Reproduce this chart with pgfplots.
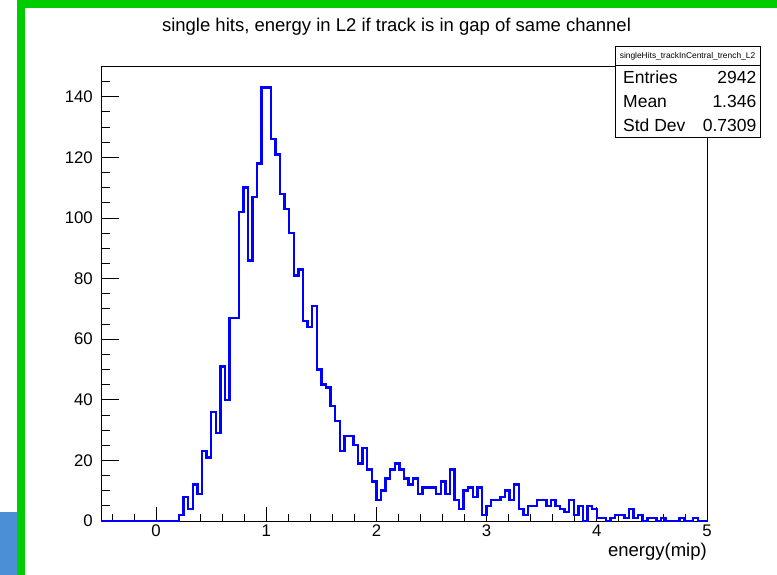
\documentclass[border=0pt]{standalone}
\usepackage{pgfplots}
\pgfplotsset{compat=1.18}
\usepackage{fontspec}
\setmainfont{Liberation Sans}
\definecolor{rootgreen}{RGB}{0,204,0}
\definecolor{sideblue}{RGB}{74,144,214}
\begin{document}
\begin{tikzpicture}[x=1bp,y=1bp]
\path[use as bounding box, fill=white] (0,0) rectangle (777,575);
\fill[sideblue] (0,0) rectangle (17,63);
\fill[rootgreen] (17,0) rectangle (25,575);
\fill[rootgreen] (17,567) rectangle (777,575);
\begin{axis}[
  at={(101bp,54bp)}, anchor=south west,
  scale only axis, width=606bp, height=455bp,
  xmin=-0.5, xmax=5, ymin=0, ymax=150.15,
  clip=false,
  axis line style={black, line width=0.8bp},
  tick align=inside,
  xtick={0,1,2,3,4,5},
  ytick={0,20,40,60,80,100,120,140},
  minor xtick={-0.4,-0.2,0.2,0.4,0.6,0.8,1.2,1.4,1.6,1.8,2.2,2.4,2.6,2.8,3.2,3.4,3.6,3.8,4.2,4.4,4.6,4.8},
  minor ytick={5,10,15,25,30,35,45,50,55,65,70,75,85,90,95,105,110,115,125,130,135,145},
  xtick pos=bottom, ytick pos=left,
  x tick style={black, line width=0.8bp, /pgfplots/major tick length=13.7bp, /pgfplots/minor tick length=6.8bp},
  y tick style={black, line width=0.8bp, /pgfplots/major tick length=18.2bp, /pgfplots/minor tick length=9.1bp},
  tick label style={font=\fontsize{16.8bp}{18bp}\selectfont},
  xticklabel style={anchor=base, yshift=-16bp},
  yticklabel style={anchor=east, inner sep=0pt, xshift=-8bp},
  /pgf/number format/assume math mode=true,
  xlabel={energy(mip)},
  xlabel style={at={(axis description cs:1,0)}, anchor=base east, inner sep=0pt, yshift=-36bp, font=\fontsize{18.5bp}{20bp}\selectfont},
]
\addplot[const plot mark left, color={rgb,255:red,0;green,0;blue,255}, line width=2.4bp] table {
x y
-0.5 0
0.20833 2
0.25 8
0.29167 4
0.33333 12
0.375 9
0.41667 23
0.45833 21
0.5 36
0.54167 29
0.58333 51
0.625 40
0.66667 67
0.70833 67
0.75 102
0.79167 110
0.83333 86
0.875 107
0.91667 118
0.95833 143
1.0 143
1.04167 126
1.08333 121
1.125 108
1.16667 103
1.20833 95
1.25 81
1.29167 83
1.33333 66
1.375 64
1.41667 71
1.45833 50
1.5 45
1.54167 44
1.58333 38
1.625 33
1.66667 23
1.70833 28
1.75 28
1.79167 25
1.83333 19
1.875 24
1.91667 17
1.95833 13
2.0 7
2.04167 10
2.08333 14
2.125 17
2.16667 19
2.20833 17
2.25 14
2.29167 12
2.33333 14
2.375 9
2.41667 11
2.45833 11
2.5 11
2.54167 9
2.58333 13
2.625 9
2.66667 17
2.70833 7
2.75 4
2.79167 10
2.83333 11
2.875 8
2.91667 11
2.95833 2
3.0 5
3.04167 7
3.08333 7
3.125 8
3.16667 10
3.20833 7
3.25 12
3.29167 4
3.33333 2
3.375 5
3.41667 5
3.45833 7
3.5 7
3.54167 5
3.58333 7
3.625 5
3.66667 4
3.70833 3
3.75 7
3.79167 2
3.83333 5
3.875 0
3.91667 5
3.95833 4
4.0 1
4.04167 1
4.08333 0
4.125 1
4.16667 2
4.20833 2
4.25 1
4.29167 4
4.33333 1
4.375 2
4.41667 0
4.45833 1
4.5 1
4.54167 0
4.58333 1
4.625 0
4.66667 0
4.70833 0
4.75 1
4.79167 0
4.83333 0
4.875 1
4.91667 0
4.95833 0
5.0 0
};
\end{axis}
% title
\node[anchor=base, inner sep=0pt, font=\fontsize{18.5bp}{20bp}\selectfont] at (396.5,543.5) {single hits, energy in L2 if track is in gap of same channel};
% stats box
\draw[black, line width=0.8bp, fill=white] (615,437.7) rectangle (760,528.3);
\draw[black, line width=0.8bp] (615,510) -- (760,510);
\node[anchor=center, inner sep=0pt, font=\fontsize{8.4bp}{9bp}\selectfont] at (687.5,519) {singleHits\_trackInCentral\_trench\_L2};
\begin{scope}[every node/.style={inner sep=0pt, font=\fontsize{17.5bp}{19bp}\selectfont}]
\node[anchor=base west] at (623,491.7) {Entries};
\node[anchor=base east] at (756.5,491.7) {2942};
\node[anchor=base west] at (623,467.7) {Mean};
\node[anchor=base east] at (756.5,467.7) {1.346};
\node[anchor=base west] at (623,443.7) {Std Dev};
\node[anchor=base east] at (756.5,443.7) {0.7309};
\end{scope}
\end{tikzpicture}
\end{document}
